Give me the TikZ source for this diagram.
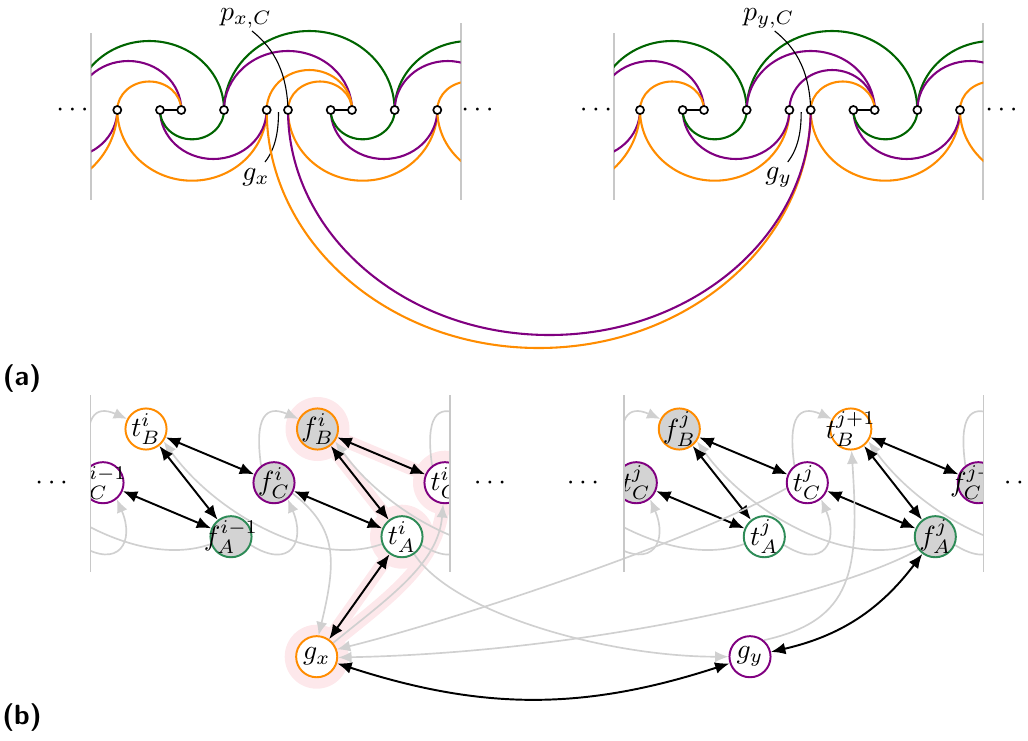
\documentclass[tikz,border=0pt]{standalone}
\usetikzlibrary{arrows.meta}
\pgfdeclarelayer{hilite}
\pgfdeclarelayer{edges}
\pgfsetlayers{hilite,edges,main}

\definecolor{ora}{RGB}{255,140,0}
\definecolor{pur}{RGB}{128,0,128}
\definecolor{grnA}{RGB}{0,100,0}
\definecolor{grnB}{RGB}{46,139,87}
\definecolor{nodefill}{RGB}{211,211,211}
\definecolor{edgegray}{RGB}{208,208,208}
\definecolor{rulegray}{RGB}{200,200,200}
\definecolor{hlpink}{RGB}{253,232,235}

% label of a vertex that never widens its circle
\newcommand\vlab[1]{\makebox[0pt]{$#1$}}

% half-ellipse arcs on the spine: upper/lower, leaving a point to the right or left
\newcommand\upR[4]{\draw[#1] (#2) arc[start angle=180, end angle=0, x radius=#3, y radius=#4];}
\newcommand\loR[4]{\draw[#1] (#2) arc[start angle=180, end angle=360, x radius=#3, y radius=#4];}
\newcommand\upL[4]{\draw[#1] (#2) arc[start angle=0, end angle=180, x radius=#3, y radius=#4];}
\newcommand\loL[4]{\draw[#1] (#2) arc[start angle=0, end angle=-180, x radius=#3, y radius=#4];}

% one window of the arc diagram: #1 name prefix, #2 colour of the arc 7 -> 11
\newcommand\arcpanel[2]{%
  \coordinate (#1-0) at (117.3,630);
  \coordinate (#1-2) at (160,630);
  \coordinate (#1-3) at (181.3,630);
  \coordinate (#1-5) at (224,630);
  \coordinate (#1-7) at (266.7,630);
  \coordinate (#1-8) at (288,630);
  \coordinate (#1-10) at (330.7,630);
  \coordinate (#1-11) at (352,630);
  \coordinate (#1-13) at (394.7,630);
  \coordinate (#1-15) at (437.3,630);
  \draw[panelrule] (91.3,707) -- (91.3,540);
  \draw[panelrule] (460.7,717) -- (460.7,540);
  \begin{scope}
    \clip (91.3,500) rectangle (460.7,740);
    \begin{scope}[arcline]
      % upper page
      \upL{grnA}{#1-5}{74.7}{69}
      \upR{grnA}{#1-5}{85.3}{79}
      \upR{grnA}{#1-13}{75}{69}
      \upL{pur}{#1-3}{53}{49}
      \upR{pur}{#1-5}{64}{59}
      \upR{pur}{#1-13}{53}{49}
      \upR{ora}{#1-0}{32}{28.5}
      \upR{#2}{#1-7}{42.7}{40}
      \upR{ora}{#1-8}{32}{28.5}
      \upR{ora}{#1-15}{32}{28.5}
      % lower page
      \loL{pur}{#1-0}{52}{47.8}
      \loL{ora}{#1-0}{90}{82.8}
      \loR{ora}{#1-0}{74.7}{70.7}
      \loR{pur}{#1-2}{53.3}{49}
      \loR{grnA}{#1-2}{32}{29.3}
      \loR{ora}{#1-8}{74.7}{70.7}
      \loR{pur}{#1-10}{53.3}{49}
      \loR{grnA}{#1-10}{32}{29.3}
      \loR{ora}{#1-15}{75}{70}
    \end{scope}
  \end{scope}
  \draw[pairedge] (#1-2) -- (#1-3);
  \draw[pairedge] (#1-10) -- (#1-11);
}

% labels p and g of a window: #1 prefix, #2 variable letter
\newcommand\arclabels[2]{%
  \node (#1-p) at (246,722) {$p_{#2,C}$};
  \node (#1-g) at (256,563) {$g_{#2}$};
  \coordinate (#1-pa) at (252,709);
  \coordinate (#1-ga) at (265,578);
  \coordinate (#1-gb) at (278.5,628);
  \draw[leader] (#1-pa) .. controls (276,690) and (287,665) .. (#1-8);
  \draw[leader] (#1-ga) .. controls (276,592) and (278.5,610) .. (#1-gb);
}

\newcommand\arcnodes[1]{%
  \foreach \k in {0,2,3,5,7,8,10,11,13,15} {\node[vtx] (#1-v\k) at (#1-\k) {};}
}

\begin{document}
\begin{tikzpicture}[x=0.36pt, y=0.36pt,
  arcline/.style={line width=0.75pt},
  vtx/.style={circle, draw=black, fill=white, line width=0.6pt, minimum size=2.9pt, inner sep=0pt},
  pairedge/.style={line width=0.85pt},
  leader/.style={line width=0.4pt},
  panelrule/.style={draw=rulegray, line width=0.7pt},
  panelruleb/.style={draw=rulegray, line width=0.45pt},
  gnode/.style={circle, line width=0.7pt, minimum size=14.8pt, inner sep=0pt, fill=white},
  fnode/.style={gnode, fill=nodefill},
  ghost/.style={circle, minimum size=14.8pt, inner sep=0pt},
  both/.style={{Latex[length=5.2pt,width=4.2pt]}-{Latex[length=5.2pt,width=4.2pt]}, line width=0.7pt, draw=black},
  dep/.style={-{Latex[length=4.8pt,width=4pt]}, line width=0.6pt, draw=edgegray},
  hl/.style={draw=hlpink, line width=4.8pt, line cap=round},
  halo/.style={fill=hlpink},
  paneltag/.style={font=\sffamily\bfseries}
]
\useasboundingbox (0,0) rectangle (1028,740);

% ---------------- (a) arc diagram ----------------
\arcpanel{L}{ora}
\arclabels{L}{x}
\begin{scope}[shift={(522.7,0)}]
  \arcpanel{R}{pur}
  \arclabels{R}{y}
\end{scope}

% the two long arcs joining the windows
\draw[arcline, ora] (L-7) arc[start angle=180, end angle=360, x radius=272, y radius=238];
\draw[arcline, pur] (L-8) arc[start angle=180, end angle=360, x radius=261.35, y radius=225];

\arcnodes{L}
\arcnodes{R}

\node (da1) at (72.5,630) {$\cdots$};
\node (da2) at (477.5,630) {$\cdots$};
\node (da3) at (596,630) {$\cdots$};
\node (da4) at (1001.5,630) {$\cdots$};

\node[paneltag] (capa) at (22,361) {(a)};

% ---------------- (b) conflict graph ----------------
\node[gnode, draw=ora] (gx) at (316.7,83.3) {\vlab{g_x}};
\node[gnode, draw=pur] (gy) at (750,83.3) {\vlab{g_y}};

% window i
\begin{scope}
  \clip (90.7,0) rectangle (450,740);
  \node[gnode, draw=ora] (tBi) at (146,311) {\vlab{t^{i}_{B}}};
  \node[fnode, draw=ora] (fBi) at (317.5,311) {\vlab{f^{i}_{B}}};
  \node[gnode, draw=pur] (tCim) at (103,257.3) {\vlab{t^{i-1}_{C}}};
  \node[fnode, draw=pur] (fCi) at (274,257.3) {\vlab{f^{i}_{C}}};
  \node[gnode, draw=pur] (tCi) at (445,257.3) {\vlab{t^{i}_{C}}};
  \node[fnode, draw=grnB] (fAim) at (231,203.3) {\vlab{f^{i-1}_{A}}};
  \node[gnode, draw=grnB] (tAi) at (402,203.3) {\vlab{t^{i}_{A}}};
\end{scope}
% neighbours of window i lying outside it
\node[ghost] (uB1) at (488.5,311) {};
\node[ghost] (uA0) at (60,203.3) {};
\node[ghost] (uB0) at (-25,311) {};
\node[ghost] (uA3) at (573,203.3) {};

% window j
\begin{scope}
  \clip (624,0) rectangle (983.3,740);
  \node[fnode, draw=ora] (fBj) at (679.3,311) {\vlab{f^{j}_{B}}};
  \node[gnode, draw=ora] (tBj) at (850.8,311) {\vlab{t^{j+1}_{B}}};
  \node[fnode, draw=pur] (tCjl) at (636.3,257.3) {\vlab{t^{j}_{C}}};
  \node[gnode, draw=pur] (tCj) at (807.3,257.3) {\vlab{t^{j}_{C}}};
  \node[fnode, draw=pur] (fCj) at (978.3,257.3) {\vlab{f^{j+1}_{C}}};
  \node[gnode, draw=grnB] (tAj) at (764.3,203.3) {\vlab{t^{j}_{A}}};
  \node[fnode, draw=grnB] (fAj) at (935.3,203.3) {\vlab{f^{j}_{A}}};
\end{scope}
\node[ghost] (wB3) at (1021.8,311) {};
\node[ghost] (wA0) at (593.3,203.3) {};
\node[ghost] (wB0) at (508.3,311) {};
\node[ghost] (wA3) at (1106.3,203.3) {};

\draw[panelruleb] (90.7,345) -- (90.7,168);
\draw[panelruleb] (450,345) -- (450,168);
\draw[panelruleb] (624,345) -- (624,168);
\draw[panelruleb] (983.3,345) -- (983.3,168);

\node (db1) at (51.7,257) {$\cdots$};
\node (db2) at (490,257) {$\cdots$};
\node (db3) at (583,257) {$\cdots$};
\node (db4) at (1020,257) {$\cdots$};

\node[paneltag] (capb) at (22,22) {(b)};

% highlighted cycle
\begin{pgfonlayer}{hilite}
  \begin{scope}
    \clip (0,0) rectangle (450,740);
    \draw[hl] (fBi.center) -- (tCi.center);
    \draw[hl] (fBi.center) -- (tAi.center);
    \draw[hl] (tAi.center) -- (gx.center);
    \draw[hl] (gx.40) .. controls +(55,45) and +(-5,-60) .. (tCi.-95);
    \fill[halo] (fBi.center) circle[radius=32];
    \fill[halo] (tCi.center) circle[radius=32];
    \fill[halo] (tAi.center) circle[radius=32];
    \fill[halo] (gx.center) circle[radius=32];
  \end{scope}
\end{pgfonlayer}

\begin{pgfonlayer}{edges}
  % window i
  \begin{scope}
    \clip (90.7,0) rectangle (450,740);
    \draw[dep] (tCim.127) .. controls +(-7,50) and +(-32,14) .. (tBi.152);
    \draw[dep] (fCi.127) .. controls +(-7,50) and +(-32,14) .. (fBi.152);
    \draw[dep] (tCi.127) .. controls +(-7,50) and +(-32,14) .. (uB1.152);
    \draw[dep] (uA0.-23) .. controls +(40,-25) and +(18,-42) .. (tCim.-50);
    \draw[dep] (fAim.-23) .. controls +(40,-25) and +(18,-42) .. (fCi.-50);
    \draw[dep] (tAi.-23) .. controls +(40,-25) and +(18,-42) .. (tCi.-50);
    \draw[dep] (tAi.200) .. controls +(-70,-25) and +(50,-70) .. (tBi.-35);
    \draw[dep] (fAim.200) .. controls +(-70,-25) and +(50,-70) .. (uB0.-35);
    \draw[dep] (uA3.200) .. controls +(-70,-25) and +(50,-70) .. (fBi.-35);
    \draw[both] (tBi) -- (fCi);
    \draw[both] (tBi) -- (fAim);
    \draw[both] (tCim) -- (fAim);
    \draw[both] (fBi) -- (tCi);
    \draw[both] (fBi) -- (tAi);
    \draw[both] (fCi) -- (tAi);
  \end{scope}
  % window j
  \begin{scope}
    \clip (624,0) rectangle (983.3,740);
    \draw[dep] (tCjl.127) .. controls +(-7,50) and +(-32,14) .. (fBj.152);
    \draw[dep] (tCj.127) .. controls +(-7,50) and +(-32,14) .. (tBj.152);
    \draw[dep] (fCj.127) .. controls +(-7,50) and +(-32,14) .. (wB3.152);
    \draw[dep] (wA0.-23) .. controls +(40,-25) and +(18,-42) .. (tCjl.-50);
    \draw[dep] (tAj.-23) .. controls +(40,-25) and +(18,-42) .. (tCj.-50);
    \draw[dep] (fAj.-23) .. controls +(40,-25) and +(18,-42) .. (fCj.-50);
    \draw[dep] (tAj.200) .. controls +(-70,-25) and +(50,-70) .. (wB0.-35);
    \draw[dep] (fAj.200) .. controls +(-70,-25) and +(50,-70) .. (fBj.-35);
    \draw[dep] (wA3.200) .. controls +(-70,-25) and +(50,-70) .. (tBj.-35);
    \draw[both] (fBj) -- (tCj);
    \draw[both] (fBj) -- (tAj);
    \draw[both] (tCjl) -- (tAj);
    \draw[both] (tBj) -- (fCj);
    \draw[both] (tBj) -- (fAj);
    \draw[both] (tCj) -- (fAj);
  \end{scope}
  % edges reaching the gadget vertices
  \draw[dep] (fCi.-30) .. controls +(45,-35) and +(18,75) .. (gx.85);
  \draw[dep] (tCj.195) .. controls +(-100,-55) and +(120,30) .. (gx.20);
  \draw[dep] (fAj.217) .. controls +(-80,-45) and +(250,5) .. (gx.-2);
  \draw[dep] (tAi.-55) .. controls +(40,-60) and +(-120,0) .. (gy.180);
  \draw[dep] (gy.50) .. controls +(90,20) and +(8,-120) .. (tBj.-88);
  \draw[dep] (gx.40) .. controls +(55,45) and +(-5,-60) .. (tCi.-95);
  \draw[both] (tAi) -- (gx);
  \draw[both] (gx) to[bend right=18] (gy);
  \draw[both] (gy) to[bend right=20] (fAj);
\end{pgfonlayer}

\end{tikzpicture}
\end{document}
